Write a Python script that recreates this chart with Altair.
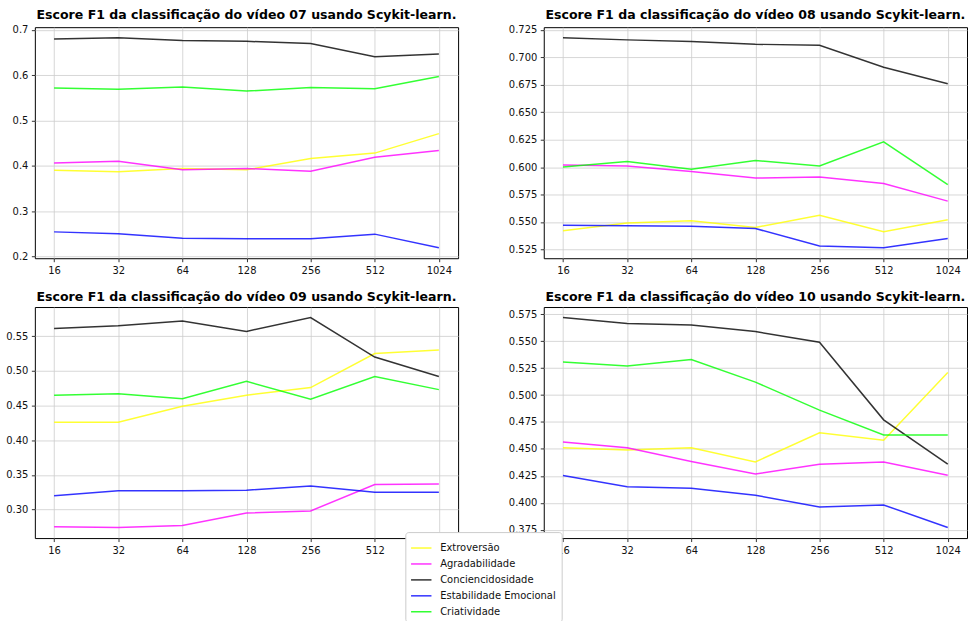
import altair as alt
import pandas as pd

# Tamanhos de janela avaliados (eixo x, espaçados igualmente)
janelas = ["16", "32", "64", "128", "256", "512", "1024"]

tracos = ["Extroversão", "Agradabilidade", "Conciencidosidade",
          "Estabilidade Emocional", "Criatividade"]
cores = ["#ffff00", "#ff00ff", "#000000", "#0000ff", "#00ff00"]

# Escore F1 por traço, vídeo 07
v07_extroversao = [0.390, 0.387, 0.394, 0.391, 0.416, 0.428, 0.471]
v07_agradabilidade = [0.406, 0.410, 0.391, 0.394, 0.388, 0.419, 0.434]
v07_conciencidosidade = [0.680, 0.683, 0.677, 0.675, 0.670, 0.641, 0.647]
v07_estabilidade = [0.254, 0.250, 0.240, 0.239, 0.239, 0.249, 0.219]
v07_criatividade = [0.572, 0.569, 0.574, 0.565, 0.573, 0.570, 0.597]

# Escore F1 por traço, vídeo 08
v08_extroversao = [0.542, 0.549, 0.551, 0.545, 0.556, 0.541, 0.552]
v08_agradabilidade = [0.602, 0.601, 0.596, 0.590, 0.591, 0.585, 0.569]
v08_conciencidosidade = [0.718, 0.716, 0.7145, 0.712, 0.711, 0.691, 0.676]
v08_estabilidade = [0.547, 0.5466, 0.546, 0.544, 0.528, 0.5265, 0.535]
v08_criatividade = [0.600, 0.605, 0.598, 0.606, 0.601, 0.623, 0.584]

# Escore F1 por traço, vídeo 09
v09_extroversao = [0.426, 0.426, 0.449, 0.465, 0.476, 0.525, 0.530]
v09_agradabilidade = [0.275, 0.274, 0.277, 0.295, 0.298, 0.336, 0.337]
v09_conciencidosidade = [0.561, 0.565, 0.572, 0.557, 0.577, 0.520, 0.492]
v09_estabilidade = [0.320, 0.327, 0.327, 0.328, 0.334, 0.325, 0.325]
v09_criatividade = [0.465, 0.467, 0.460, 0.485, 0.459, 0.492, 0.473]

# Escore F1 por traço, vídeo 10
v10_extroversao = [0.451, 0.449, 0.451, 0.438, 0.465, 0.458, 0.521]
v10_agradabilidade = [0.4565, 0.451, 0.4384, 0.4268, 0.4357, 0.4378, 0.4256]
v10_conciencidosidade = [0.572, 0.5664, 0.565, 0.559, 0.549, 0.477, 0.436]
v10_estabilidade = [0.4253, 0.415, 0.4136, 0.407, 0.396, 0.398, 0.377]
v10_criatividade = [0.5306, 0.527, 0.533, 0.512, 0.486, 0.463, 0.463]

videos = {
    "07": [v07_extroversao, v07_agradabilidade, v07_conciencidosidade, v07_estabilidade, v07_criatividade],
    "08": [v08_extroversao, v08_agradabilidade, v08_conciencidosidade, v08_estabilidade, v08_criatividade],
    "09": [v09_extroversao, v09_agradabilidade, v09_conciencidosidade, v09_estabilidade, v09_criatividade],
    "10": [v10_extroversao, v10_agradabilidade, v10_conciencidosidade, v10_estabilidade, v10_criatividade],
}

# Marcas do eixo y de cada painel
ticks_y = {
    "07": ([0.2, 0.3, 0.4, 0.5, 0.6, 0.7], ".1f"),
    "08": ([0.525, 0.55, 0.575, 0.6, 0.625, 0.65, 0.675, 0.7, 0.725], ".3f"),
    "09": ([0.30, 0.35, 0.40, 0.45, 0.50, 0.55], ".2f"),
    "10": ([0.375, 0.4, 0.425, 0.45, 0.475, 0.5, 0.525, 0.55, 0.575], ".3f"),
}

linhas = []
for video, series in videos.items():
    for traco, valores in zip(tracos, series):
        for i, v in enumerate(valores):
            linhas.append({"video": video, "traco": traco, "idx": i, "f1": v})
df = pd.DataFrame(linhas)

label_expr = "[" + ",".join("'%s'" % j for j in janelas) + "][datum.value]"

# Legenda da figura, sobreposta aos dois painéis de baixo
legenda = alt.Legend(
    title=None, orient="none", legendX=372, legendY=507,
    symbolType="stroke", symbolSize=420, symbolStrokeWidth=1.5,
    symbolOpacity=0.8, labelFontSize=10, labelFont="DejaVu Sans",
    labelColor="#111", fillColor="white", strokeColor="#cccccc",
    padding=5, cornerRadius=3, rowPadding=0, labelOffset=8,
)


def painel(video, extent):
    sub = df[df["video"] == video]
    lo, hi = sub["f1"].min(), sub["f1"].max()
    margem = (hi - lo) * 0.05
    valores, fmt = ticks_y[video]
    return alt.Chart(sub).mark_line(strokeWidth=1.5, strokeOpacity=0.8).encode(
        x=alt.X("idx:Q",
                scale=alt.Scale(domain=[-0.3, 6.3], nice=False, zero=False),
                axis=alt.Axis(values=list(range(len(janelas))), labelExpr=label_expr,
                              title=None)),
        y=alt.Y("f1:Q",
                scale=alt.Scale(domain=[lo - margem, hi + margem], nice=False, zero=False),
                axis=alt.Axis(values=valores, format=fmt, title=None,
                              minExtent=extent, maxExtent=extent)),
        color=alt.Color("traco:N", sort=tracos,
                        scale=alt.Scale(domain=tracos, range=cores),
                        legend=legenda),
        detail="traco:N",
    ).properties(
        width=425, height=232,
        title="Escore F1 da classificação do vídeo %s usando Scykit-learn." % video,
    )


linha1 = alt.hconcat(painel("07", 34), painel("08", 35), spacing=48)
linha2 = alt.hconcat(painel("09", 34), painel("10", 35), spacing=48)

chart = alt.vconcat(linha1, linha2, spacing=14).resolve_scale(
    color="shared"
).resolve_legend(color="shared").properties(
    padding={"left": 0, "top": 7, "right": 0, "bottom": 0},
    background="white",
).configure_view(
    stroke="black", strokeWidth=1,
).configure_axis(
    domain=False, grid=True, gridColor="#cccccc", gridWidth=0.8,
    tickColor="black", tickSize=3.5, tickWidth=0.8, labelPadding=3.5,
    labelFont="DejaVu Sans", labelFontSize=10, labelColor="#111",
    labelFlush=False, labelOverlap=False,
).configure_title(
    font="DejaVu Sans", fontSize=12.6, fontWeight="bold", color="black",
    anchor="middle", offset=3,
)

chart.save("out.html", embed_options={"renderer": "svg", "actions": False})
